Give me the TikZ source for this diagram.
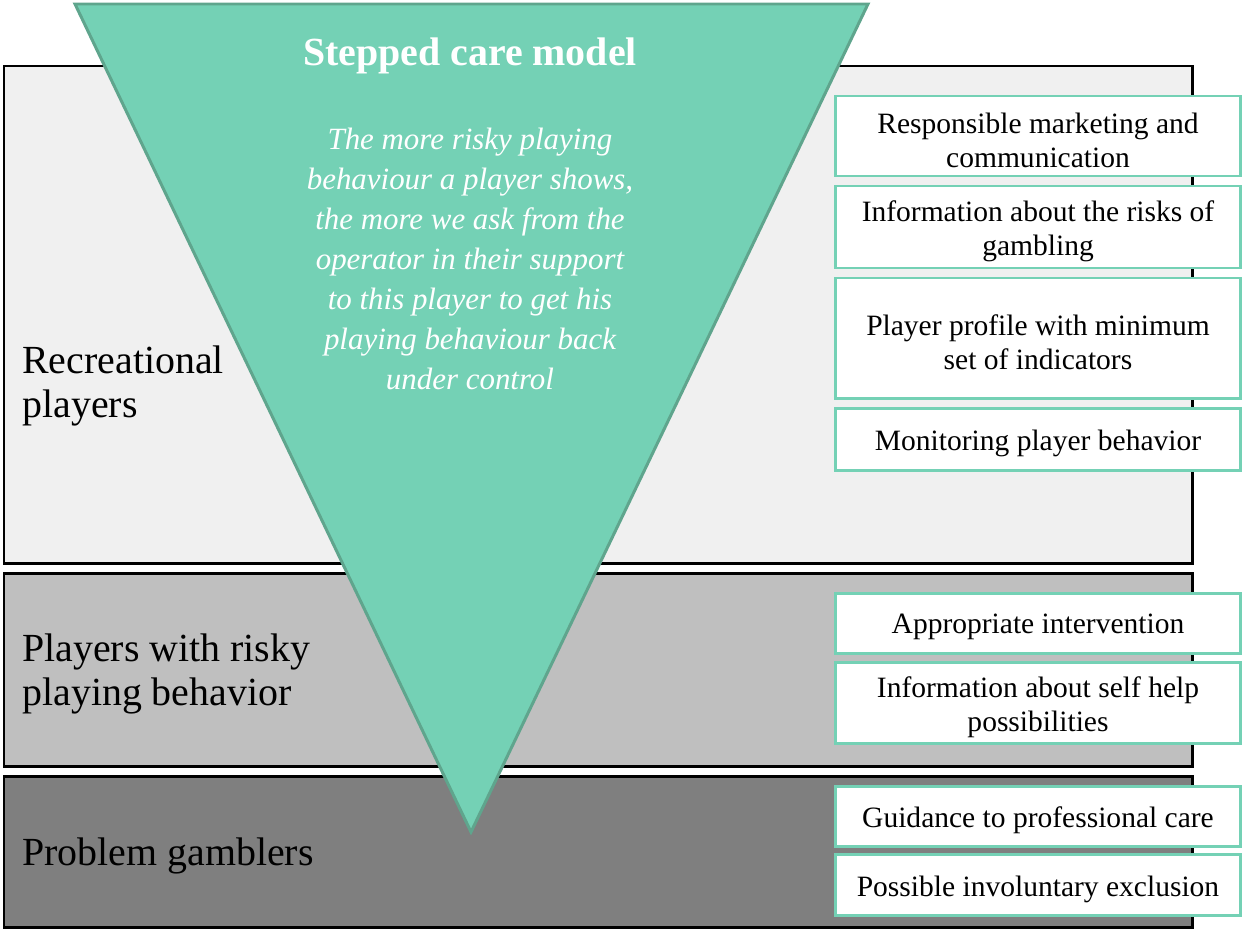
\documentclass[tikz,border=0pt]{standalone}
\usepackage{fontspec}
\setmainfont{Liberation Serif}
\begin{document}
\begin{tikzpicture}[x=0.02cm,y=-0.02cm,
  band/.style={draw=black,line width=1.7pt},
  actbox/.style={draw=mint,fill=white,line width=1.7pt,minimum width=8.1cm,inner sep=0pt},
  acttext/.style={align=center,inner sep=0pt,yshift=-0.08cm,font=\fontsize{16.8pt}{19.3pt}\selectfont},
  grouplabel/.style={anchor=west,align=left,inner sep=0pt,font=\fontsize{22.7pt}{25.5pt}\selectfont}]
\definecolor{mint}{HTML}{74D1B5}
\definecolor{mintdark}{HTML}{5FA58D}
\definecolor{lightband}{HTML}{F0F0F0}
\definecolor{midband}{HTML}{BFBFBF}
\definecolor{darkband}{HTML}{7F7F7F}
\useasboundingbox (0,0) rectangle (1243,930);
% the three player groups
\draw[band,fill=lightband] (4,66) rectangle (1192,563);
\draw[band,fill=midband] (4,573) rectangle (1192,766);
\draw[band,fill=darkband] (4,776) rectangle (1192,927);
\node[grouplabel] (recreational) at (22,386) {Recreational\\players};
\node[grouplabel] (risky) at (22,674) {Players with risky\\playing behavior};
\node[grouplabel] (problem) at (22,856) {Problem gamblers};
% the stepped care funnel
\draw[fill=mint,draw=mintdark,line width=1.7pt] (75,4) -- (868,4) -- (471,832) -- cycle;
\node[text=white,font=\fontsize{22.7pt}{25.5pt}\selectfont\bfseries] (title) at (470,56) {Stepped care model};
\node[text=white,align=center,font=\fontsize{17.6pt}{22.7pt}\selectfont\itshape] (motto) at (470,259)
  {The more risky playing\\behaviour a player shows,\\the more we ask from the\\operator in their support\\to this player to get his\\playing behaviour back\\under control};
% measures on the right
\foreach \yc/\bh/\txt [count=\i] in {136/80/{Responsible marketing and\\communication},
    227/82/{Information about the risks of\\gambling},
    338/120/{Player profile with minimum\\set of indicators},
    439/62/{Monitoring player behavior},
    623/60/{Appropriate intervention},
    703/81/{Information about self help\\possibilities},
    816/60/{Guidance to professional care},
    885/61/{Possible involuntary exclusion}}
  {\node[actbox,minimum height=\bh*0.02cm,label={[acttext,name=measuretext\i]center:\txt}] (measure\i) at (1038,\yc) {};}
\end{tikzpicture}
\end{document}
